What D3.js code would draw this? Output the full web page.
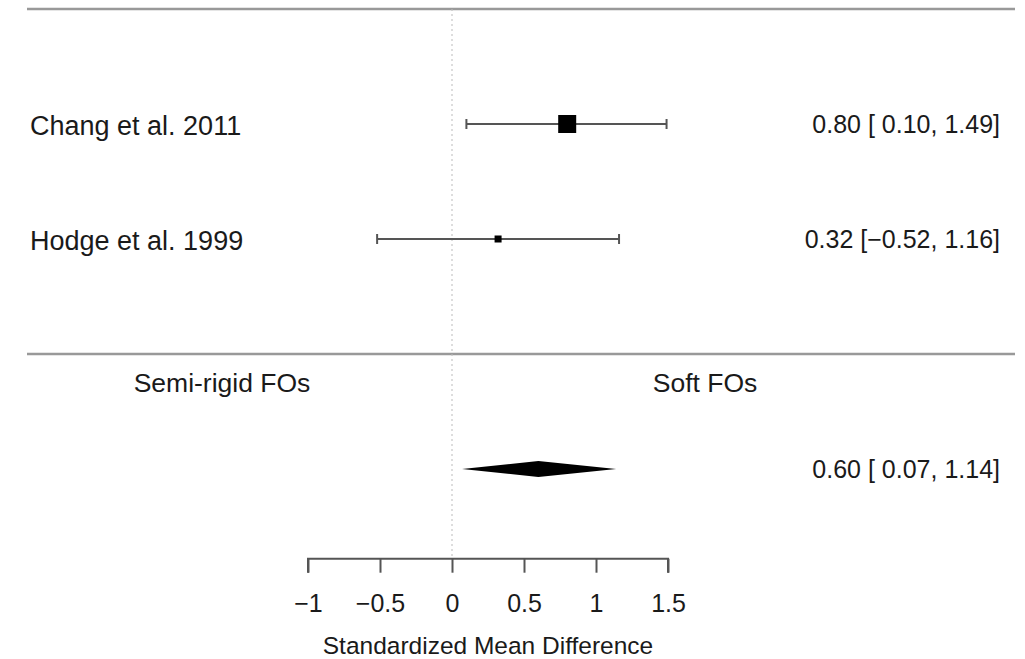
<!DOCTYPE html>
<html>
<head>
<meta charset="utf-8">
<script src="https://cdn.jsdelivr.net/npm/d3@7"></script>
<style>
  body { margin: 0; background: #fff; }
  text { font-family: "Liberation Sans", Arial, sans-serif; fill: #1a1a1a; }
</style>
</head>
<body>
<div class="forest-plot"></div>
<script>
// study rows
const studies = ['Chang et al. 2011', 'Hodge et al. 1999'];
const estimates = [0.80, 0.32];
const ciLower = [0.10, -0.52];
const ciUpper = [1.49, 1.16];
const ciLabels = ['0.80 [ 0.10, 1.49]', '0.32 [\u22120.52, 1.16]'];

// pooled estimate
const pooled = {est: 0.60, lo: 0.07, hi: 1.14, label: '0.60 [ 0.07, 1.14]'};

const favours = ['Semi-rigid FOs', 'Soft FOs'];
const xTicks = [-1, -0.5, 0, 0.5, 1, 1.5];
const xTitle = 'Standardized Mean Difference';

const width = 1025;
const height = 659;

const svg = d3.select('.forest-plot')
    .append('svg')
    .attr('width', width)
    .attr('height', height);

const xScale = d3.scaleLinear()
    .domain([-1, 1.5])
    .range([308, 668]);

// metafor-style rows: studies k..1, line at 0, summary at -1
const k = studies.length;
const yScale = d3.scaleLinear()
    .domain([k, 1])
    .range([124, 239]);

// marker size from precision (1/se), as metafor does
const se = ciLower.map((lo, i) => (ciUpper[i] - lo) / (2 * 1.96));
const prec = se.map(s => 1 / s);
const sizeScale = d3.scaleLinear()
    .domain(d3.extent(prec))
    .range([7, 18]);

const rows = studies.map((s, i) => ({
    name: s, est: estimates[i], lo: ciLower[i], hi: ciUpper[i],
    label: ciLabels[i], row: k - i, size: sizeScale(prec[i])
}));

// horizontal rules
[k + 1, 0].forEach(r => {
    svg.append('line')
        .attr('x1', 27).attr('x2', 1015)
        .attr('y1', yScale(r)).attr('y2', yScale(r))
        .attr('stroke', '#999')
        .attr('stroke-width', 2.5);
});

const axisY = yScale(-1.78);

// reference line at zero
svg.append('line')
    .attr('x1', xScale(0)).attr('x2', xScale(0))
    .attr('y1', yScale(k + 1)).attr('y2', axisY)
    .attr('stroke', '#bbb')
    .attr('stroke-width', 1)
    .attr('stroke-dasharray', '2,3');

// confidence intervals
const g = svg.selectAll('.study')
    .data(rows)
    .enter()
    .append('g')
    .attr('class', 'study');

g.append('line')
    .attr('x1', d => xScale(d.lo))
    .attr('x2', d => xScale(d.hi))
    .attr('y1', d => yScale(d.row))
    .attr('y2', d => yScale(d.row))
    .attr('stroke', '#555')
    .attr('stroke-width', 2);

g.selectAll('.cap')
    .data(d => [d.lo, d.hi].map(v => ({v: v, row: d.row})))
    .enter()
    .append('line')
    .attr('class', 'cap')
    .attr('x1', d => xScale(d.v)).attr('x2', d => xScale(d.v))
    .attr('y1', d => yScale(d.row) - 5)
    .attr('y2', d => yScale(d.row) + 5)
    .attr('stroke', '#555')
    .attr('stroke-width', 2);

g.append('rect')
    .attr('x', d => xScale(d.est) - d.size / 2)
    .attr('y', d => yScale(d.row) - d.size / 2)
    .attr('width', d => d.size)
    .attr('height', d => d.size)
    .attr('fill', '#000');

g.append('text')
    .attr('x', 30)
    .attr('y', d => yScale(d.row))
    .attr('dy', '0.4em')
    .attr('font-size', 27)
    .text(d => d.name);

g.append('text')
    .attr('x', 1000)
    .attr('y', d => yScale(d.row))
    .attr('dy', '0.36em')
    .attr('text-anchor', 'end')
    .attr('font-size', 25)
    .text(d => d.label);

// favours labels
svg.selectAll('.favours')
    .data(favours)
    .enter()
    .append('text')
    .attr('class', 'favours')
    .attr('x', (d, i) => i === 0 ? 222 : 705)
    .attr('y', yScale(-0.25))
    .attr('dy', '0.36em')
    .attr('text-anchor', 'middle')
    .attr('font-size', 26.5)
    .text(d => d);

// summary diamond
const sy = yScale(-1);
svg.append('path')
    .attr('d', `M${xScale(pooled.lo)},${sy} L${xScale(pooled.est)},${sy - 8} L${xScale(pooled.hi)},${sy} L${xScale(pooled.est)},${sy + 8} Z`)
    .attr('fill', '#000');

svg.append('text')
    .attr('x', 1000)
    .attr('y', sy)
    .attr('dy', '0.36em')
    .attr('text-anchor', 'end')
    .attr('font-size', 25)
    .text(pooled.label);

// x axis
const xAxis = d3.axisBottom(xScale)
    .tickValues(xTicks)
    .tickSize(14)
    .tickPadding(22)
    .tickFormat(d => d3.format('')(d).replace('-', '\u2212'));

const axisGroup = svg.append('g')
    .attr('class', 'axis x-axis')
    .attr('transform', `translate(0,${axisY})`)
    .call(xAxis);

axisGroup.select('.domain')
    .attr('stroke', '#555')
    .attr('stroke-width', 2)
    .attr('d', `M${xScale(-1)},14V0H${xScale(1.5)}V14`);

axisGroup.selectAll('.tick line')
    .attr('stroke', '#555')
    .attr('stroke-width', 2);

axisGroup.selectAll('.tick text')
    .attr('font-size', 25)
    .attr('font-family', '"Liberation Sans", Arial, sans-serif')
    .attr('fill', '#1a1a1a');

svg.append('text')
    .attr('x', xScale(0.25))
    .attr('y', 654)
    .attr('text-anchor', 'middle')
    .attr('font-size', 24.5)
    .text(xTitle);
</script>
</body>
</html>
